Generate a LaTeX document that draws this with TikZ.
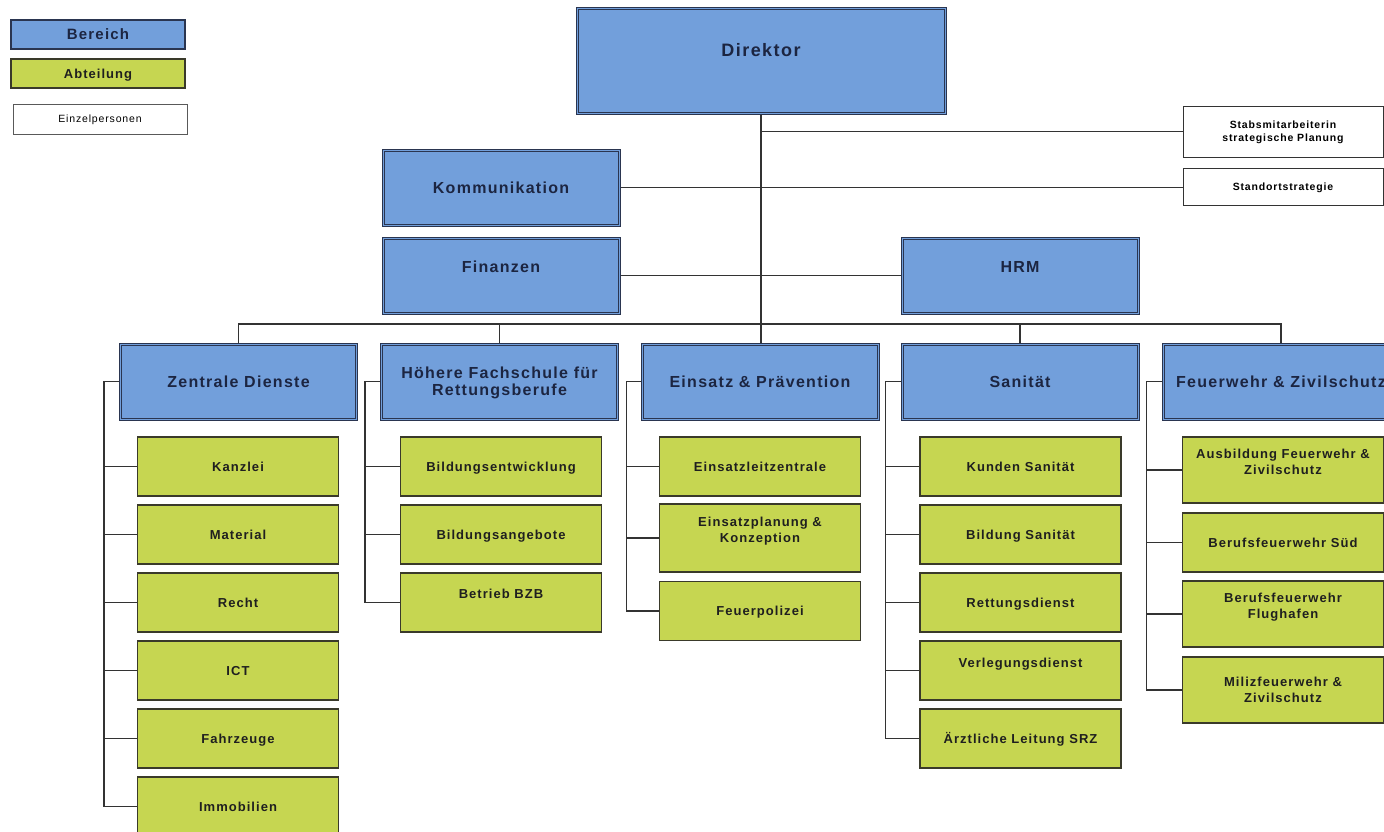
\documentclass[tikz,border=0pt]{standalone}
\usepackage{fontspec}
\setmainfont{Liberation Sans}[LetterSpace=8]
\usetikzlibrary{calc}
\definecolor{bfill}{HTML}{729FDB}
\definecolor{gfill}{HTML}{C6D651}
\definecolor{bline}{HTML}{2A3550}
\definecolor{gline}{HTML}{3A3A2A}
\definecolor{btext}{HTML}{1C2541}
\definecolor{lncol}{HTML}{333333}
\newcommand{\twol}[2]{\begin{tabular}[b]{@{}c@{}}#1\\#2\end{tabular}}
\tikzset{
  bbox/.style={draw=bline, line width=3pt, fill=bfill, postaction={draw=bfill, line width=0.9pt},
    text=btext, font=\fontsize{16}{17}\selectfont\bfseries, minimum width=236pt, minimum height=75pt,
    inner sep=0pt, text height=11.5pt, text depth=0pt},
  gbox/.style={draw=gline, line width=1.2pt, fill=gfill, text=black!88,
    font=\fontsize{13}{16}\selectfont\bfseries, minimum width=201pt, minimum height=59pt,
    inner sep=0pt, text height=9.3pt, text depth=0pt},
  wbox/.style={draw=lncol, line width=1pt, fill=white, text=black,
    font=\fontsize{10.5}{13}\selectfont\bfseries, minimum width=200pt, inner sep=0pt,
    text height=7.5pt, text depth=0pt},
  conn/.style={draw=lncol, line width=1.2pt},
}
\begin{document}
\begin{tikzpicture}[x=1pt,y=-1pt]
\useasboundingbox (0,0) rectangle (1384,831);
\clip (0,0) rectangle (1384,831);
% legend
\node[draw=bline, line width=1.8pt, fill=bfill, text=btext, font=\fontsize{15}{17}\selectfont\bfseries,
  minimum width=174pt, minimum height=29pt, inner sep=0pt, text height=10.7pt, text depth=0pt] (legb) at (98,34.5) {Bereich};
\node[gbox, minimum width=174pt, minimum height=29pt] (lega) at (98,73.5) {Abteilung};
\node[wbox, draw=gray!70!black, font=\fontsize{10.5}{13}\selectfont, minimum width=174pt, minimum height=30pt] (lege) at (100,119) {Einzelpersonen};
% top
\node[bbox, font=\fontsize{18}{20}\selectfont\bfseries, minimum width=368pt, minimum height=105pt,
  text height=12.9pt, text depth=21pt] (dir) at (761,60.5) {Direktor};
\node[wbox, minimum height=51pt, text height=20.5pt] (stabs) at (1283,131.5) {\twol{Stabsmitarbeiterin}{strategische Planung}};
\node[wbox, minimum height=37pt] (std) at (1283,186.5) {Standortstrategie};
\node[bbox] (kom) at (501,187.5) {Kommunikation};
\node[bbox, text depth=17pt] (fin) at (501,275.5) {Finanzen};
\node[bbox, text depth=17pt] (hrm) at (1020,275.5) {HRM};
% tier 2
\node[bbox] (zd) at (238.5,381.5) {Zentrale Dienste};
\node[bbox, text height=28.5pt] (hf) at (499.5,381.5) {\twol{Höhere Fachschule für}{Rettungsberufe}};
\node[bbox] (ep) at (760,381.5) {Einsatz \& Prävention};
\node[bbox] (sa) at (1020,381.5) {Sanität};
\node[bbox] (fz) at (1281,381.5) {Feuerwehr \& Zivilschutz};
% Zentrale Dienste
\node[gbox] (kan) at (238,466.5) {Kanzlei};
\node[gbox] (mat) at (238,534.5) {Material};
\node[gbox] (rec) at (238,602.5) {Recht};
\node[gbox] (ict) at (238,670.5) {ICT};
\node[gbox] (fah) at (238,738.5) {Fahrzeuge};
\node[gbox] (imm) at (238,806.5) {Immobilien};
% HF
\node[gbox] (bent) at (501,466.5) {Bildungsentwicklung};
\node[gbox] (bang) at (501,534.5) {Bildungsangebote};
\node[gbox, text depth=17pt] (bzb) at (501,602.5) {Betrieb BZB};
% EP
\node[gbox] (elz) at (760,466.5) {Einsatzleitzentrale};
\node[gbox, minimum height=68pt, text height=25.3pt, text depth=17pt] (epk) at (760,538) {\twol{Einsatzplanung \&}{Konzeption}};
\node[gbox] (fpo) at (760,611) {Feuerpolizei};
% SA
\node[gbox] (kun) at (1020.5,466.5) {Kunden Sanität};
\node[gbox] (bsa) at (1020.5,534.5) {Bildung Sanität};
\node[gbox] (ret) at (1020.5,602.5) {Rettungsdienst};
\node[gbox, text depth=15pt] (ver) at (1020.5,670.5) {Verlegungsdienst};
\node[gbox] (arz) at (1020.5,738.5) {Ärztliche Leitung SRZ};
% FZ
\node[gbox, minimum height=66pt, text height=25.3pt, text depth=16pt] (aus) at (1283,470) {\twol{Ausbildung Feuerwehr \&}{Zivilschutz}};
\node[gbox] (bsu) at (1283,542.5) {Berufsfeuerwehr Süd};
\node[gbox, minimum height=66pt, text height=25.3pt, text depth=16pt] (bfl) at (1283,614) {\twol{Berufsfeuerwehr}{Flughafen}};
\node[gbox, minimum height=66pt, text height=25.3pt] (mil) at (1283,690) {\twol{Milizfeuerwehr \&}{Zivilschutz}};
% connectors
\coordinate (busy) at (0,324);
\draw[conn] (dir.south) -- (dir.south |- ep.north);
\draw[conn] (dir.south |- stabs.west) -- (stabs.west);
\draw[conn] (kom.east) -- (kom.east -| std.west);
\draw[conn] (fin.east) -- (hrm.west);
\draw[conn] (zd.north) -- (zd.north |- busy) -- (fz.north |- busy) -- (fz.north);
\draw[conn] (hf.north) -- (hf.north |- busy);
\draw[conn] (sa.north) -- (sa.north |- busy);
% spines
\coordinate (zds) at ($(zd.west)+(-15,0)$);
\draw[conn] (zd.west) -- (zds) |- (imm.west);
\foreach \n in {kan,mat,rec,ict,fah} \draw[conn] (zds |- \n.west) -- (\n.west);
\coordinate (hfs) at ($(hf.west)+(-15,0)$);
\draw[conn] (hf.west) -- (hfs) |- (bzb.west);
\foreach \n in {bent,bang} \draw[conn] (hfs |- \n.west) -- (\n.west);
\coordinate (eps) at ($(ep.west)+(-14,0)$);
\draw[conn] (ep.west) -- (eps) |- (fpo.west);
\foreach \n in {elz,epk} \draw[conn] (eps |- \n.west) -- (\n.west);
\coordinate (sas) at ($(sa.west)+(-15,0)$);
\draw[conn] (sa.west) -- (sas) |- (arz.west);
\foreach \n in {kun,bsa,ret,ver} \draw[conn] (sas |- \n.west) -- (\n.west);
\coordinate (fzs) at ($(fz.west)+(-15,0)$);
\draw[conn] (fz.west) -- (fzs) |- (mil.west);
\foreach \n in {aus,bsu,bfl} \draw[conn] (fzs |- \n.west) -- (\n.west);
\end{tikzpicture}
\end{document}
